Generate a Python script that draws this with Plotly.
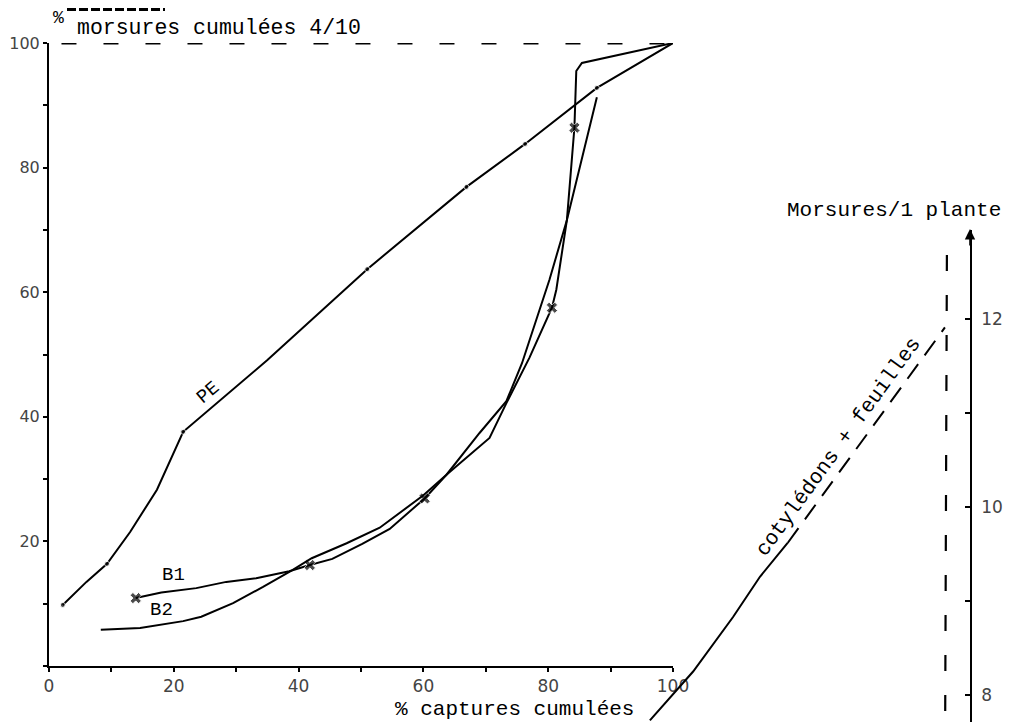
import plotly.graph_objects as go

# ---------------- data (main chart: % cumulated bites vs % cumulated catches)
pe_x = [2.2, 6.0, 9.3, 13.0, 17.3, 21.5, 35.0, 51.0, 66.9, 76.3, 87.8, 100.0]
pe_y = [9.8, 13.5, 16.4, 21.5, 28.3, 37.6, 49.1, 63.7, 76.9, 83.8, 92.8, 100.0]
pe_dot = [1, 0, 1, 0, 0, 1, 0, 1, 1, 1, 1, 0]

b1_x = [13.9, 18.0, 23.6, 28.4, 33.2, 38.5, 41.8, 45.4, 50.2, 54.6, 60.2, 63.7,
        70.6, 73.3, 77.0, 80.6, 81.3, 83.0, 84.2, 84.5, 85.4, 100.0]
b1_y = [10.9, 11.8, 12.5, 13.5, 14.1, 15.2, 16.2, 17.2, 19.6, 22.0, 26.9, 30.7,
        36.6, 42.2, 49.5, 57.5, 60.4, 71.6, 86.4, 95.5, 96.8, 100.0]
b1_cross = [1, 0, 0, 0, 0, 0, 1, 0, 0, 0, 1, 0, 0, 0, 0, 1, 0, 0, 1, 0, 0, 0]

b2_x = [8.3, 14.6, 21.5, 24.4, 29.5, 34.3, 39.0, 42.1, 47.7, 53.0, 60.0, 63.7,
        69.0, 73.3, 75.8, 80.2, 83.0, 87.8]
b2_y = [5.8, 6.1, 7.2, 7.9, 10.1, 12.7, 15.4, 17.3, 19.7, 22.2, 27.4, 30.7,
        37.4, 42.5, 48.6, 62.0, 71.6, 91.3]

x_ticks = [0, 20, 40, 60, 80, 100]
y_ticks = [20, 40, 60, 80, 100]

# ---------------- data (right chart: bites per plant)
r_solid_x = [0.30, 1.61, 2.82, 3.64, 4.48]
r_solid_y = [7.73, 8.25, 8.83, 9.26, 9.62]
r_dash_x = [4.48, 9.24]
r_dash_y = [9.62, 11.91]
r_vline_x = [9.30, 9.24]
r_vline_y = [12.68, 7.0]
r_ticks = [8, 10, 12]

# ---------------- layout helpers (screen pixel -> paper); page body has an 8px margin
OFF = 8
SCREEN_W, SCREEN_H = 1011, 722
W, H = SCREEN_W - 2 * OFF, SCREEN_H - OFF


def fx(px):
    return (px - OFF) / W


def fy(py):
    return 1 - (py - OFF) / H


MONO = "Liberation Mono, Courier New, monospace"
TICKF_X = dict(family="DejaVu Sans, sans-serif", size=17, color="#444")
TICKF_Y = dict(family="DejaVu Sans, sans-serif", size=16, color="#444")

fig = go.Figure()

line = dict(color="black", width=2)
fig.add_trace(go.Scatter(x=pe_x, y=pe_y, mode="lines+markers", line=line,
                         marker=dict(size=[5 * d for d in pe_dot], color="black"),
                         hoverinfo="skip", showlegend=False))
fig.add_trace(go.Scatter(x=b1_x, y=b1_y, mode="lines+markers", line=line,
                         marker=dict(size=[10 * c for c in b1_cross], symbol="x", color="black"),
                         hoverinfo="skip", showlegend=False))
fig.add_trace(go.Scatter(x=b2_x, y=b2_y, mode="lines", line=line,
                         hoverinfo="skip", showlegend=False))

fig.add_trace(go.Scatter(x=r_solid_x, y=r_solid_y, mode="lines", line=line,
                         xaxis="x2", yaxis="y2", hoverinfo="skip", showlegend=False))
fig.add_trace(go.Scatter(x=r_dash_x, y=r_dash_y, mode="lines",
                         line=dict(color="black", width=2, dash="18px,11px"),
                         xaxis="x2", yaxis="y2", hoverinfo="skip", showlegend=False))
fig.add_trace(go.Scatter(x=r_vline_x, y=r_vline_y, mode="lines",
                         line=dict(color="black", width=2.2, dash="16px,24px"),
                         xaxis="x2", yaxis="y2", hoverinfo="skip", showlegend=False))

# dashed frame of the main chart
fig.add_shape(type="line", xref="x", yref="y", x0=2, x1=100, y0=100, y1=100,
              line=dict(color="black", width=2.8, dash="15px,27px"))
fig.add_shape(type="line", xref="x", yref="y", x0=100.3, x1=100.3, y0=98, y1=0,
              line=dict(color="black", width=2.8, dash="12px,28px"))
# underline remnant at top-left
fig.add_shape(type="line", xref="paper", yref="paper", x0=fx(67), x1=fx(165),
              y0=fy(9.5), y1=fy(9.5), line=dict(color="black", width=3, dash="9px,3px"))

ann = []
ann.append(dict(text="%", x=fx(51), y=fy(18), xref="paper", yref="paper",
                xanchor="left", yanchor="middle", showarrow=False,
                font=dict(family=MONO, size=18, color="black")))
ann.append(dict(text="morsures cumulées 4/10", x=fx(75), y=fy(28), xref="paper", yref="paper",
                xanchor="left", yanchor="middle", showarrow=False,
                font=dict(family=MONO, size=21.5, color="black")))
ann.append(dict(text="% captures cumulées", x=fx(393), y=fy(709), xref="paper", yref="paper",
                xanchor="left", yanchor="middle", showarrow=False,
                font=dict(family=MONO, size=21, color="black")))
ann.append(dict(text="Morsures/1 plante", x=fx(785), y=fy(210), xref="paper", yref="paper",
                xanchor="left", yanchor="middle", showarrow=False,
                font=dict(family=MONO, size=21, color="black")))
ann.append(dict(text="cotylédons + feuilles", x=fx(838), y=fy(447), xref="paper", yref="paper",
                xanchor="center", yanchor="middle", showarrow=False, textangle=-54,
                font=dict(family=MONO, size=21, color="black")))
ann.append(dict(text="PE", x=fx(208), y=fy(393), xref="paper", yref="paper",
                xanchor="center", yanchor="middle", showarrow=False, textangle=-40,
                font=dict(family=MONO, size=19, color="black")))
ann.append(dict(text="B1", x=fx(173), y=fy(575), xref="paper", yref="paper",
                xanchor="center", yanchor="middle", showarrow=False,
                font=dict(family=MONO, size=19, color="black")))
ann.append(dict(text="B2", x=fx(161), y=fy(610), xref="paper", yref="paper",
                xanchor="center", yanchor="middle", showarrow=False,
                font=dict(family=MONO, size=19, color="black")))
# arrow at the top of the right axis
ann.append(dict(text="", x=fx(970), y=fy(229), xref="paper", yref="paper",
                showarrow=True, ax=0, ay=18, arrowhead=2, arrowsize=1.3,
                arrowwidth=1.6, arrowcolor="black"))

fig.update_layout(
    width=W, height=H,
    margin=dict(l=0, r=0, t=0, b=0, autoexpand=False),
    paper_bgcolor="white", plot_bgcolor="rgba(0,0,0,0)",
    annotations=ann,
    xaxis=dict(domain=[fx(49), fx(673)], range=[0, 100], showgrid=False, zeroline=False,
               automargin=False,
               showline=True, linecolor="black", linewidth=2, ticks="outside", ticklen=4,
               tickwidth=1.5, tickcolor="black", tickvals=x_ticks, tickfont=TICKF_X,
               ticklabelstandoff=0,
               minor=dict(ticks="outside", ticklen=4, tickwidth=1.5, tickcolor="black", dtick=10),
               anchor="y"),
    yaxis=dict(domain=[fy(666), fy(43)], range=[0, 100], showgrid=False, zeroline=False,
               automargin=False,
               showline=True, linecolor="black", linewidth=2, ticks="outside", ticklen=4,
               tickwidth=1.5, tickcolor="black", tickvals=y_ticks, tickfont=TICKF_Y,
               minor=dict(ticks="outside", ticklen=4, tickwidth=1.5, tickcolor="black", dtick=10),
               anchor="x"),
    xaxis2=dict(domain=[fx(640), fx(970)], range=[0, 10], visible=False, anchor="y2",
                automargin=False),
    yaxis2=dict(domain=[0, fy(230)], range=[12 - (SCREEN_H - 319) / 94, 12 + (319 - 230) / 94],
                side="right", anchor="x2", showgrid=False, zeroline=False, automargin=False,
                showline=True, linecolor="black", linewidth=1.6, ticks="inside", ticklen=5,
                tickwidth=1.5, tickcolor="black", tickvals=r_ticks, tickfont=TICKF_X,
                ticklabelstandoff=6,
                minor=dict(ticks="inside", ticklen=5, tickwidth=1.5, tickcolor="black", dtick=1)),
)

fig.write_html("out.html")
